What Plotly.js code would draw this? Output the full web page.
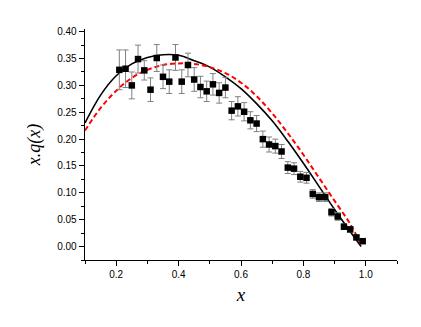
<!DOCTYPE html>
<html>
<head>
<meta charset="utf-8">
<script src="https://cdn.plot.ly/plotly-3.0.1.min.js"></script>
<style>
  html, body { margin: 0; padding: 0; background: #fff; }
  #chart { width: 421px; height: 327px; }
</style>
</head>
<body>
<div id="chart"></div>
<script>
// --- DATA ---
const dataX = [0.21, 0.23, 0.25, 0.27, 0.29, 0.31, 0.33, 0.35, 0.37, 0.39,
               0.41, 0.43, 0.45, 0.47, 0.49, 0.51, 0.53, 0.55, 0.57, 0.59,
               0.61, 0.63, 0.65, 0.67, 0.69, 0.71, 0.73, 0.75, 0.77, 0.79,
               0.81, 0.83, 0.85, 0.87, 0.89, 0.91, 0.93, 0.95, 0.97, 0.99];
const dataY = [0.329, 0.331, 0.300, 0.349, 0.328, 0.292, 0.351, 0.316, 0.307, 0.352,
               0.307, 0.338, 0.311, 0.297, 0.289, 0.302, 0.286, 0.296, 0.253, 0.261,
               0.251, 0.235, 0.229, 0.200, 0.190, 0.187, 0.177, 0.147, 0.145, 0.130,
               0.128, 0.098, 0.092, 0.092, 0.064, 0.056, 0.037, 0.032, 0.017, 0.010];
const dataErr = [0.037, 0.035, 0.025, 0.026, 0.018, 0.022, 0.025, 0.022, 0.022, 0.024,
                 0.022, 0.022, 0.022, 0.020, 0.019, 0.020, 0.019, 0.019, 0.017, 0.018,
                 0.017, 0.016, 0.015, 0.015, 0.014, 0.013, 0.013, 0.011, 0.011, 0.010,
                 0.010, 0.008, 0.008, 0.008, 0.007, 0.007, 0.005, 0.005, 0.004, 0.003];

// solid black curve
const solidX = [0.10, 0.15, 0.20, 0.25, 0.30, 0.35, 0.40, 0.45, 0.50, 0.55,
                0.60, 0.65, 0.70, 0.75, 0.80, 0.85, 0.90, 0.95, 0.985];
const solidY = [0.230, 0.282, 0.318, 0.340, 0.352, 0.357, 0.356, 0.346, 0.334, 0.316,
                0.294, 0.266, 0.234, 0.196, 0.155, 0.112, 0.069, 0.028, 0.000];

// dashed red curve
const dashX = [0.10, 0.15, 0.20, 0.25, 0.30, 0.35, 0.40, 0.45, 0.50, 0.55,
               0.60, 0.65, 0.70, 0.75, 0.80, 0.85, 0.90, 0.95, 0.985];
const dashY = [0.216, 0.258, 0.290, 0.314, 0.329, 0.338, 0.341, 0.340, 0.334, 0.323,
               0.305, 0.280, 0.248, 0.211, 0.171, 0.128, 0.085, 0.042, 0.003];

const traces = [
    {
        x: solidX, y: solidY, type: 'scatter', mode: 'lines',
        line: { color: '#000', width: 1.6, shape: 'spline' },
        hoverinfo: 'skip'
    },
    {
        x: dashX, y: dashY, type: 'scatter', mode: 'lines',
        line: { color: '#ff0000', width: 2, dash: '5px,3px', shape: 'spline' },
        hoverinfo: 'skip'
    },
    {
        x: dataX, y: dataY, type: 'scatter', mode: 'markers',
        marker: { symbol: 'square', size: 6.5, color: '#000' },
        error_y: { type: 'data', array: dataErr, visible: true,
                   color: '#808080', thickness: 1, width: 3 }
    }
];

const axisCommon = {
    showline: true, linecolor: '#000', linewidth: 1.3,
    ticks: 'outside', ticklen: 5, tickwidth: 1, tickcolor: '#000',
    showgrid: false, zeroline: false,
    tickfont: { family: 'Liberation Sans, Arial, sans-serif', size: 10, color: '#000' }
};

const layout = {
    width: 421, height: 327,
    margin: { l: 85, r: 24, t: 29, b: 67 },
    paper_bgcolor: '#fff', plot_bgcolor: '#fff',
    showlegend: false,
    xaxis: Object.assign({}, axisCommon, {
        range: [0.1, 1.1], dtick: 0.2, tick0: 0, tickformat: '.1f',
        minor: { dtick: 0.1, ticks: 'outside', ticklen: 3, tickcolor: '#000' },
        title: { text: 'x', standoff: 8,
                 font: { family: 'Liberation Serif, Times New Roman, serif', size: 19, style: 'italic', color: '#000' } }
    }),
    yaxis: Object.assign({}, axisCommon, {
        range: [-0.025, 0.405], dtick: 0.05, tick0: 0, tickformat: '.2f',
        minor: { dtick: 0.025, ticks: 'outside', ticklen: 3, tickcolor: '#000' },
        title: { text: 'x.q(x)', standoff: 12,
                 font: { family: 'Liberation Serif, Times New Roman, serif', size: 18, style: 'italic', color: '#000' } }
    })
};

Plotly.newPlot('chart', traces, layout, { displayModeBar: false, staticPlot: true });
</script>
</body>
</html>
